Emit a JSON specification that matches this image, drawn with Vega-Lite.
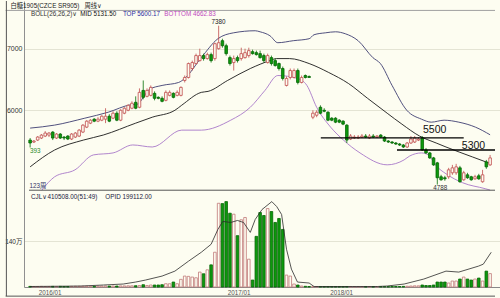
{
"$schema":"https://vega.github.io/schema/vega-lite/v6.json",
"width":500,"height":298,
"autosize":{"type":"fit","contains":"padding"},
"padding":0,
"background":"#fdfdf1",
"config":{"view":{"stroke":null,"fill":"#fdfdf1"},"font":"Liberation Sans, DejaVu Sans, Noto Sans CJK SC","text":{"font":"Liberation Sans, DejaVu Sans, Noto Sans CJK SC"}},
"datasets":{
"k":[
{"i":0,"o":5514,"h":5547,"l":5393,"c":5466,"v":18300},
{"i":1,"o":5482,"h":5514,"l":5466,"c":5498,"v":15200},
{"i":2,"o":5514,"h":5579,"l":5498,"c":5563,"v":15200},
{"i":3,"o":5547,"h":5612,"l":5531,"c":5595,"v":18300},
{"i":4,"o":5579,"h":5660,"l":5563,"c":5628,"v":15200},
{"i":5,"o":5595,"h":5644,"l":5563,"c":5628,"v":15200},
{"i":6,"o":5644,"h":5660,"l":5514,"c":5547,"v":18300},
{"i":7,"o":5547,"h":5628,"l":5531,"c":5612,"v":15200},
{"i":8,"o":5612,"h":5628,"l":5531,"c":5547,"v":18300},
{"i":9,"o":5563,"h":5579,"l":5514,"c":5547,"v":15200},
{"i":10,"o":5579,"h":5595,"l":5514,"c":5531,"v":15200},
{"i":11,"o":5531,"h":5628,"l":5514,"c":5612,"v":18300},
{"i":12,"o":5563,"h":5644,"l":5547,"c":5628,"v":21300},
{"i":13,"o":5579,"h":5693,"l":5563,"c":5676,"v":21300},
{"i":14,"o":5644,"h":5774,"l":5628,"c":5757,"v":24300},
{"i":15,"o":5725,"h":5838,"l":5709,"c":5822,"v":24300},
{"i":16,"o":5790,"h":5855,"l":5774,"c":5838,"v":21300},
{"i":17,"o":5855,"h":5871,"l":5806,"c":5822,"v":21300},
{"i":18,"o":5822,"h":5887,"l":5806,"c":5855,"v":24300},
{"i":19,"o":5838,"h":5919,"l":5822,"c":5903,"v":27400},
{"i":20,"o":5855,"h":6033,"l":5790,"c":5903,"v":30400},
{"i":21,"o":5903,"h":5936,"l":5806,"c":5822,"v":27400},
{"i":22,"o":5871,"h":5984,"l":5855,"c":5952,"v":30400},
{"i":23,"o":5952,"h":5984,"l":5822,"c":5838,"v":30400},
{"i":24,"o":5838,"h":6017,"l":5822,"c":6000,"v":33500},
{"i":25,"o":5952,"h":6049,"l":5936,"c":6033,"v":33500},
{"i":26,"o":6000,"h":6098,"l":5984,"c":6081,"v":36500},
{"i":27,"o":6033,"h":6146,"l":6017,"c":6114,"v":36500},
{"i":28,"o":6130,"h":6227,"l":6017,"c":6033,"v":39600},
{"i":29,"o":6049,"h":6357,"l":6033,"c":6292,"v":45700},
{"i":30,"o":6324,"h":6486,"l":6179,"c":6211,"v":70000},
{"i":31,"o":6227,"h":6357,"l":6211,"c":6324,"v":45700},
{"i":32,"o":6243,"h":6405,"l":6227,"c":6373,"v":60900},
{"i":33,"o":6276,"h":6308,"l":6162,"c":6195,"v":60900},
{"i":34,"o":6211,"h":6227,"l":6179,"c":6195,"v":60900},
{"i":35,"o":6195,"h":6227,"l":6130,"c":6146,"v":70000},
{"i":36,"o":6162,"h":6324,"l":6146,"c":6292,"v":100400},
{"i":37,"o":6243,"h":6324,"l":6227,"c":6292,"v":100400},
{"i":38,"o":6276,"h":6292,"l":6195,"c":6211,"v":152200},
{"i":39,"o":6243,"h":6324,"l":6227,"c":6292,"v":100400},
{"i":40,"o":6243,"h":6389,"l":6227,"c":6373,"v":234300},
{"i":41,"o":6486,"h":6567,"l":6454,"c":6535,"v":334800},
{"i":42,"o":6535,"h":6778,"l":6519,"c":6762,"v":325700},
{"i":43,"o":6681,"h":6810,"l":6648,"c":6778,"v":304400},
{"i":44,"o":6762,"h":6924,"l":6746,"c":6892,"v":283000},
{"i":45,"o":6810,"h":7005,"l":6794,"c":6892,"v":456500},
{"i":46,"o":6892,"h":6924,"l":6810,"c":6843,"v":404800},
{"i":47,"o":6843,"h":6940,"l":6827,"c":6908,"v":526500},
{"i":48,"o":6908,"h":6940,"l":6778,"c":6810,"v":678700},
{"i":49,"o":6843,"h":7102,"l":6810,"c":7086,"v":1065200},
{"i":50,"o":7005,"h":7380,"l":6989,"c":7102,"v":2565700},
{"i":51,"o":7135,"h":7167,"l":7021,"c":7053,"v":2556500},
{"i":52,"o":7053,"h":7086,"l":6892,"c":6924,"v":2617400},
{"i":53,"o":6859,"h":6892,"l":6729,"c":6762,"v":2261300},
{"i":54,"o":6778,"h":6892,"l":6648,"c":6843,"v":2230900},
{"i":55,"o":6859,"h":6892,"l":6778,"c":6810,"v":1573500},
{"i":56,"o":6843,"h":7021,"l":6810,"c":6924,"v":2060400},
{"i":57,"o":6859,"h":7005,"l":6843,"c":6940,"v":2130500},
{"i":58,"o":6892,"h":7021,"l":6859,"c":6973,"v":852200},
{"i":59,"o":6956,"h":6989,"l":6908,"c":6924,"v":213000},
{"i":60,"o":6940,"h":6973,"l":6892,"c":6908,"v":1552200},
{"i":61,"o":6924,"h":6973,"l":6843,"c":6859,"v":2282600},
{"i":62,"o":6892,"h":6924,"l":6778,"c":6810,"v":2191300},
{"i":63,"o":6778,"h":6924,"l":6762,"c":6892,"v":2404400},
{"i":64,"o":6859,"h":6892,"l":6729,"c":6762,"v":2313100},
{"i":65,"o":6810,"h":6843,"l":6713,"c":6729,"v":1978300},
{"i":66,"o":6762,"h":6778,"l":6648,"c":6681,"v":2100000},
{"i":67,"o":6681,"h":6713,"l":6486,"c":6519,"v":1765200},
{"i":68,"o":6405,"h":6551,"l":6389,"c":6519,"v":365200},
{"i":69,"o":6535,"h":6681,"l":6503,"c":6648,"v":334800},
{"i":70,"o":6535,"h":6681,"l":6519,"c":6648,"v":91300},
{"i":71,"o":6648,"h":6681,"l":6422,"c":6454,"v":60900},
{"i":72,"o":6454,"h":6567,"l":6438,"c":6535,"v":30400},
{"i":73,"o":6567,"h":6584,"l":6519,"c":6535,"v":21300},
{"i":74,"o":6551,"h":6567,"l":6535,"c":6535,"v":15200},
{"i":75,"o":5887,"h":6000,"l":5855,"c":5952,"v":12200},
{"i":76,"o":5919,"h":6000,"l":5887,"c":5968,"v":12200},
{"i":77,"o":6049,"h":6081,"l":5936,"c":5952,"v":12200},
{"i":78,"o":6000,"h":6033,"l":5968,"c":5984,"v":12200},
{"i":79,"o":5968,"h":5984,"l":5822,"c":5838,"v":12200},
{"i":80,"o":5871,"h":5887,"l":5822,"c":5838,"v":12200},
{"i":81,"o":5871,"h":5887,"l":5790,"c":5806,"v":12200},
{"i":82,"o":5838,"h":5855,"l":5790,"c":5806,"v":12200},
{"i":83,"o":5822,"h":5838,"l":5757,"c":5774,"v":12200},
{"i":84,"o":5757,"h":5774,"l":5466,"c":5514,"v":15200},
{"i":85,"o":5531,"h":5612,"l":5514,"c":5579,"v":12200},
{"i":86,"o":5547,"h":5595,"l":5531,"c":5563,"v":12200},
{"i":87,"o":5547,"h":5595,"l":5531,"c":5563,"v":12200},
{"i":88,"o":5563,"h":5612,"l":5547,"c":5579,"v":12200},
{"i":89,"o":5579,"h":5612,"l":5547,"c":5563,"v":12200},
{"i":90,"o":5547,"h":5612,"l":5531,"c":5579,"v":12200},
{"i":91,"o":5579,"h":5612,"l":5547,"c":5563,"v":12200},
{"i":92,"o":5563,"h":5595,"l":5547,"c":5579,"v":12200},
{"i":93,"o":5595,"h":5612,"l":5547,"c":5563,"v":12200},
{"i":94,"o":5563,"h":5579,"l":5482,"c":5498,"v":12200},
{"i":95,"o":5498,"h":5514,"l":5466,"c":5482,"v":12200},
{"i":96,"o":5482,"h":5498,"l":5450,"c":5466,"v":15200},
{"i":97,"o":5466,"h":5482,"l":5433,"c":5450,"v":15200},
{"i":98,"o":5450,"h":5466,"l":5417,"c":5433,"v":15200},
{"i":99,"o":5433,"h":5450,"l":5385,"c":5401,"v":18300},
{"i":100,"o":5401,"h":5482,"l":5385,"c":5466,"v":24300},
{"i":101,"o":5466,"h":5579,"l":5450,"c":5531,"v":30400},
{"i":102,"o":5482,"h":5579,"l":5466,"c":5547,"v":36500},
{"i":103,"o":5514,"h":5563,"l":5498,"c":5531,"v":36500},
{"i":104,"o":5547,"h":5579,"l":5336,"c":5352,"v":60900},
{"i":105,"o":5352,"h":5385,"l":5288,"c":5304,"v":45700},
{"i":106,"o":5304,"h":5320,"l":5207,"c":5223,"v":45700},
{"i":107,"o":5223,"h":5239,"l":5093,"c":5109,"v":60900},
{"i":108,"o":5142,"h":5158,"l":4788,"c":4899,"v":152200},
{"i":109,"o":4915,"h":4947,"l":4850,"c":4866,"v":152200},
{"i":110,"o":4899,"h":4931,"l":4850,"c":4882,"v":152200},
{"i":111,"o":4915,"h":5061,"l":4882,"c":5028,"v":121700},
{"i":112,"o":4980,"h":5109,"l":4947,"c":5061,"v":182600},
{"i":113,"o":4980,"h":5126,"l":4947,"c":5077,"v":182600},
{"i":114,"o":5061,"h":5093,"l":4818,"c":4834,"v":243500},
{"i":115,"o":4866,"h":5012,"l":4850,"c":4980,"v":304400},
{"i":116,"o":4947,"h":4980,"l":4882,"c":4899,"v":243500},
{"i":117,"o":4915,"h":4931,"l":4850,"c":4866,"v":213000},
{"i":118,"o":4882,"h":4947,"l":4866,"c":4915,"v":243500},
{"i":119,"o":4931,"h":4963,"l":4866,"c":4882,"v":273900},
{"i":120,"o":4834,"h":5028,"l":4818,"c":4947,"v":182600},
{"i":121,"o":5158,"h":5190,"l":5045,"c":5077,"v":487000},
{"i":122,"o":5109,"h":5271,"l":5093,"c":5223,"v":410508}
],
"up":[{"i":0,"p":5709},{"i":6.5,"p":5758},{"i":14.5,"p":5871},{"i":20.7,"p":5968},{"i":26.7,"p":6090},{"i":28.5,"p":6100},{"i":30,"p":6210},{"i":31.6,"p":6340},{"i":35,"p":6405},{"i":39.4,"p":6454},{"i":41,"p":6519},{"i":45.4,"p":6859},{"i":49.8,"p":7167},{"i":54,"p":7264},{"i":59.7,"p":7297},{"i":61,"p":7280},{"i":63.6,"p":7216},{"i":65.7,"p":7102},{"i":69.8,"p":7135},{"i":74,"p":7167},{"i":75.3,"p":7232},{"i":78.4,"p":7264},{"i":81,"p":7280},{"i":83.6,"p":7248},{"i":87,"p":7135},{"i":90.9,"p":6859},{"i":92.9,"p":6762},{"i":96,"p":6405},{"i":99.9,"p":6000},{"i":103.8,"p":5855},{"i":106.4,"p":5806},{"i":109.8,"p":5838},{"i":113.7,"p":5806},{"i":118.1,"p":5725},{"i":122,"p":5600}],
"mid":[{"i":0,"p":5077},{"i":6.5,"p":5352},{"i":14.2,"p":5515},{"i":19.4,"p":5596},{"i":28,"p":5790},{"i":32.4,"p":5887},{"i":38.4,"p":6000},{"i":40.2,"p":6082},{"i":45.4,"p":6292},{"i":47.2,"p":6308},{"i":52.4,"p":6487},{"i":58.4,"p":6681},{"i":63.6,"p":6810},{"i":65.4,"p":6843},{"i":68.8,"p":6843},{"i":74,"p":6762},{"i":79.2,"p":6616},{"i":84.4,"p":6438},{"i":89.5,"p":6195},{"i":94.7,"p":5952},{"i":98.6,"p":5774},{"i":103.3,"p":5579},{"i":107.7,"p":5466},{"i":110.3,"p":5401},{"i":117.3,"p":5239},{"i":122,"p":5132}],
"lo":[{"i":3.1,"p":4696},{"i":6.5,"p":4915},{"i":11.9,"p":5028},{"i":16.8,"p":5272},{"i":22,"p":5304},{"i":27.2,"p":5434},{"i":32.4,"p":5401},{"i":40.2,"p":5676},{"i":45.4,"p":5676},{"i":53.2,"p":5838},{"i":58.4,"p":6049},{"i":62.3,"p":6325},{"i":65.7,"p":6567},{"i":70.9,"p":6519},{"i":73.4,"p":6406},{"i":76,"p":6049},{"i":79.7,"p":5725},{"i":83.1,"p":5514},{"i":87.5,"p":5304},{"i":94.7,"p":5110},{"i":99.2,"p":5191},{"i":100.7,"p":5255},{"i":103.8,"p":5304},{"i":105.6,"p":5272},{"i":107.7,"p":5093},{"i":110.3,"p":4964},{"i":114.7,"p":4818},{"i":120.7,"p":4721},{"i":122,"p":4698}],
"ol":[{"i":0,"v":15000},{"i":13.5,"v":30000},{"i":19.5,"v":61000},{"i":24.7,"v":91000},{"i":28,"v":152000},{"i":30.6,"v":213000},{"i":35,"v":335000},{"i":38.4,"v":487000},{"i":42,"v":791000},{"i":45.4,"v":1065000},{"i":48,"v":1309000},{"i":49.8,"v":1765000},{"i":51.1,"v":2009000},{"i":53.2,"v":1978000},{"i":55,"v":2039000},{"i":56.6,"v":1978000},{"i":58.4,"v":1674000},{"i":59.7,"v":2070000},{"i":61.5,"v":2374000},{"i":64.1,"v":2617000},{"i":65.4,"v":2465000},{"i":66.7,"v":2222000},{"i":68,"v":1157000},{"i":69.3,"v":548000},{"i":70.9,"v":152000},{"i":74,"v":122000},{"i":75.3,"v":15000},{"i":92.1,"v":15000},{"i":94.7,"v":30000},{"i":99.2,"v":91000},{"i":104.4,"v":243000},{"i":110.3,"v":487000},{"i":113.7,"v":457000},{"i":118.9,"v":639000},{"i":120.2,"v":700000},{"i":122.3,"v":1065000}],
"hl":[{"i":77.1,"i2":115,"p":5550},{"i":97.3,"i2":123.3,"p":5352}],
"hlt":[{"i":107.3,"p":5676,"t":"5500"},{"i":117.6,"p":5425,"t":"5300"}],
"sep":[{"i":-0.3,"i2":123.3,"p":4696}],
"hdrline":[{"i":-6.5,"i2":123.3,"p":7629}],
"pnotes":[
{"i":-5.2,"p":7701,"t":"白糖1905(CZCE SR905)","g":"hdr"},
{"i":14.4,"p":7701,"t":"周线∨","g":"hdr"},
{"i":0.22,"p":7564,"t":"BOLL(26,26,2)∨","g":"boll"},
{"i":13.3,"p":7564,"t":"MID 5131.50","g":"mid"},
{"i":24.6,"p":7564,"t":"TOP 5600.17","g":"top"},
{"i":35.6,"p":7564,"t":"BOTTOM 4662.83","g":"bot"},
{"i":-0.04,"p":5328,"t":"393","g":"low"},
{"i":-0.17,"p":4761,"t":"123周","g":"cnt"}
],
"cnotes":[
{"i":49.95,"p":7442,"t":"7380","g":"hi"},
{"i":108.76,"p":4729,"t":"4788","g":"lo"}
],
"vnotes":[
{"i":0.22,"v":2769585,"t":"CJL∨"},
{"i":4.63,"v":2769585,"t":"410508.00(51:49)"},
{"i":19.95,"v":2769585,"t":"OPID 199112.00"}
],
"frameL":[{"i":-6.3,"v":8765280,"v2":-280000}],
"frameB":[{"i":-6.5,"i2":123.3,"v":-280000}]
},
"encoding":{"x":{"field":"i","type":"quantitative","scale":{"domain":[-0.3,123.3],"nice":false,"zero":false},
 "axis":{"values":[5.15,55.3,82.5],"labelExpr":"datum.value < 30 ? '2016/01' : (datum.value < 70 ? '2017/01' : '2018/01')","title":null,"ticks":false,"grid":false,"labelPadding":2,"labelFontSize":6.3,"labelColor":"#555","labelFont":"Liberation Sans","domainColor":"#888","minExtent":10,"maxExtent":10,"labelFlush":false}}},
"layer":[
 {"data":{"name":"up"},"mark":{"type":"line","color":"#3d3d70","strokeWidth":0.9,"interpolate":"monotone"},
  "encoding":{"y":{"field":"p","type":"quantitative","scale":{"domain":[3117,7782.5],"nice":false,"zero":false},
   "axis":{"orient":"left","values":[6000,7000],"format":"d","title":null,"ticks":false,"labelPadding":2,"labelFontSize":7,"labelColor":"#333333","grid":true,"gridColor":"#e4e4d4","domain":true,"domainColor":"#909090","minExtent":24,"maxExtent":24}}}},
 {"data":{"name":"k"},"mark":{"type":"bar","size":2.6,"strokeWidth":0.8},
  "encoding":{"y":{"field":"v","type":"quantitative","scale":{"domain":[0,8765280],"nice":false},
   "axis":{"orient":"left","values":[1400000],"labelExpr":"'140万'","title":null,"ticks":false,"labelPadding":2,"labelFontSize":6.5,"labelColor":"#333333","grid":true,"gridColor":"#e4e4d4","domain":false,"minExtent":24,"maxExtent":24}},
   "fill":{"condition":{"test":"datum.c >= datum.o","value":"#fdfdf1"},"value":"#0c9a0c"},
   "stroke":{"condition":{"test":"datum.c >= datum.o","value":"#c07878"},"value":"#066606"}}},
 {"data":{"name":"mid"},"mark":{"type":"line","color":"#1a1a1a","strokeWidth":0.9,"interpolate":"monotone"},
  "encoding":{"y":{"field":"p","type":"quantitative","scale":{"domain":[3117,7782.5],"nice":false,"zero":false},"axis":null}}},
 {"data":{"name":"lo"},"mark":{"type":"line","color":"#a878c8","strokeWidth":0.9,"interpolate":"monotone"},
  "encoding":{"y":{"field":"p","type":"quantitative","scale":{"domain":[3117,7782.5],"nice":false,"zero":false},"axis":null}}},
 {"data":{"name":"hdrline"},"mark":{"type":"rule","color":"#a0a0a0","strokeWidth":1},
  "encoding":{"x2":{"field":"i2"},"y":{"field":"p","type":"quantitative","scale":{"domain":[3117,7782.5],"nice":false,"zero":false},"axis":null}}},
 {"data":{"name":"sep"},"mark":{"type":"rule","color":"#555555","strokeWidth":1},
  "encoding":{"x2":{"field":"i2"},"y":{"field":"p","type":"quantitative","scale":{"domain":[3117,7782.5],"nice":false,"zero":false},"axis":null}}},
 {"data":{"name":"k"},"mark":{"type":"rule","strokeWidth":0.8},
  "encoding":{"y":{"field":"l","type":"quantitative","scale":{"domain":[3117,7782.5],"nice":false,"zero":false},"axis":null},"y2":{"field":"h"},
   "color":{"condition":{"test":"datum.c >= datum.o","value":"#c04c4c"},"value":"#067006"}}},
 {"data":{"name":"k"},"mark":{"type":"bar","size":2.6,"strokeWidth":0.8},
  "encoding":{"y":{"field":"o","type":"quantitative","scale":{"domain":[3117,7782.5],"nice":false,"zero":false},"axis":null},"y2":{"field":"c"},
   "fill":{"condition":{"test":"datum.c >= datum.o","value":"#fdfdf1"},"value":"#0c9a0c"},
   "stroke":{"condition":{"test":"datum.c >= datum.o","value":"#c04c4c"},"value":"#066606"}}},
 {"data":{"name":"hl"},"mark":{"type":"rule","color":"#000000","strokeWidth":1.3},
  "encoding":{"x2":{"field":"i2"},"y":{"field":"p","type":"quantitative","scale":{"domain":[3117,7782.5],"nice":false,"zero":false},"axis":null}}},
 {"data":{"name":"hlt"},"mark":{"type":"text","fontSize":10.5,"color":"#111111","align":"center","baseline":"middle"},
  "encoding":{"y":{"field":"p","type":"quantitative","scale":{"domain":[3117,7782.5],"nice":false,"zero":false},"axis":null},"text":{"field":"t"}}},
 {"data":{"name":"pnotes"},"mark":{"type":"text","fontSize":6.3,"align":"left","baseline":"middle"},
  "encoding":{"y":{"field":"p","type":"quantitative","scale":{"domain":[3117,7782.5],"nice":false,"zero":false},"axis":null},"text":{"field":"t"},
   "color":{"field":"g","type":"nominal","legend":null,"scale":{"domain":["hdr","boll","mid","top","bot","low","cnt"],"range":["#222222","#333333","#111111","#2c2ca0","#c048c0","#2a8a2a","#333366"]}}}},
 {"data":{"name":"cnotes"},"mark":{"type":"text","fontSize":6.3,"align":"center","baseline":"middle"},
  "encoding":{"y":{"field":"p","type":"quantitative","scale":{"domain":[3117,7782.5],"nice":false,"zero":false},"axis":null},"text":{"field":"t"},
   "color":{"field":"g","type":"nominal","legend":null,"scale":{"domain":["hi","lo"],"range":["#a03838","#3a9a5a"]}}}},
 {"data":{"name":"ol"},"mark":{"type":"line","color":"#2a2a2a","strokeWidth":0.8},
  "encoding":{"y":{"field":"v","type":"quantitative","scale":{"domain":[0,8765280],"nice":false},"axis":null}}},
 {"data":{"name":"vnotes"},"mark":{"type":"text","fontSize":6.3,"align":"left","baseline":"middle","color":"#202040"},
  "encoding":{"y":{"field":"v","type":"quantitative","scale":{"domain":[0,8765280],"nice":false},"axis":null},"text":{"field":"t"}}},
 {"data":{"name":"frameL"},"mark":{"type":"rule","color":"#555555","strokeWidth":1},
  "encoding":{"y":{"field":"v","type":"quantitative","scale":{"domain":[0,8765280],"nice":false},"axis":null},"y2":{"field":"v2"}}},
 {"data":{"name":"frameB"},"mark":{"type":"rule","color":"#555555","strokeWidth":1},
  "encoding":{"x2":{"field":"i2"},"y":{"field":"v","type":"quantitative","scale":{"domain":[0,8765280],"nice":false},"axis":null}}}
],
"resolve":{"scale":{"y":"independent"},"axis":{"y":"independent"}}
}
